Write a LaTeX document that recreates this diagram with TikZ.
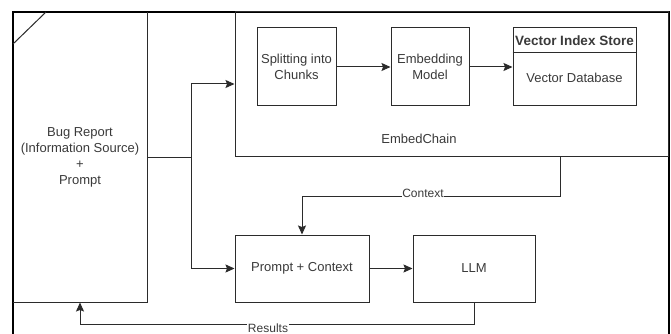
\documentclass[tikz,border=0pt]{standalone}
\usepackage{fontspec}
\setmainfont{Liberation Sans}
\usetikzlibrary{arrows.meta,positioning}
\definecolor{txt}{HTML}{3a3a3a}
\definecolor{ln}{HTML}{2b2b2b}
\tikzset{
  x=1pt,y=1pt,
  box/.style={draw=ln,line width=1pt,fill=white,text=txt,align=center,inner sep=1pt,
    font=\fontsize{13}{16}\selectfont},
  arr/.style={draw=ln,line width=1pt,-{Stealth[length=9pt,width=8pt,inset=1.5pt]}},
  lbl/.style={fill=white,text=txt,inner sep=0.5pt,font=\fontsize{12}{14}\selectfont},
}
\begin{document}
\begin{tikzpicture}
\useasboundingbox[fill=white] (0,0) rectangle (671,-334);
% outer frame
\draw[line width=2pt,black] (13,-340) -- (13,-12) -- (669,-12) -- (669,-340);
% bug report card
\node[box,minimum width=134pt,minimum height=290pt,draw=none,fill=none] (bug) at (80,-157)
  {Bug Report\\(Information Source)\\+\\Prompt};
\draw[ln,line width=1pt] (13,-302) -- (147,-302) -- (147,-12);
\draw[ln,line width=1pt] (13,-44) -- (46,-12);
% EmbedChain
\node[box,minimum width=433pt,minimum height=144pt,fill=none] (ec) at (451.5,-84) {};
\node[text=txt,font=\fontsize{13}{15}\selectfont] (ecl) at (419,-139) {EmbedChain};
\node[box,minimum width=79pt,minimum height=78pt] (split) at (296.5,-67) {Splitting into\\Chunks};
\node[box,minimum width=78pt,minimum height=78pt] (emb) at (430,-67) {Embedding\\Model};
\node[box,minimum width=123pt,minimum height=78pt] (vis) at (574.5,-67) {};
\draw[ln,line width=1pt] (vis.north west) ++(0,-25) -- ++(123,0);
\node[text=txt,font=\fontsize{13.5}{15}\bfseries\selectfont] (vish) at (574.5,-41) {Vector Index Store};
\node[text=txt,font=\fontsize{13}{15}\selectfont] (visd) at (574.5,-78) {Vector Database};
% bottom row
\node[box,minimum width=134pt,minimum height=67pt] (pc) at (302,-268.5) {Prompt + Context};
\node[box,minimum width=122pt,minimum height=67pt] (llm) at (474,-268.5) {LLM};
% connectors
\coordinate (fork) at (191,-157);
\draw[ln,line width=1pt] (bug.east) -- (fork);
\draw[arr] (fork) |- (ec.west);
\draw[arr] (fork) |- (pc.west);
\draw[arr] (split) -- (emb);
\draw[arr] (emb) -- (vis);
\draw[arr] (pc) -- (llm);
\coordinate (ecout) at (560,-156);
\draw[arr] (ecout) -- (560,-196) -| (pc.north);
\node[lbl] (ctx) at (423,-193) {Context};
\draw[arr] (llm.south) -- (474,-324) -| (bug.south);
\node[lbl] (res) at (268,-328) {Results};
\end{tikzpicture}
\end{document}
